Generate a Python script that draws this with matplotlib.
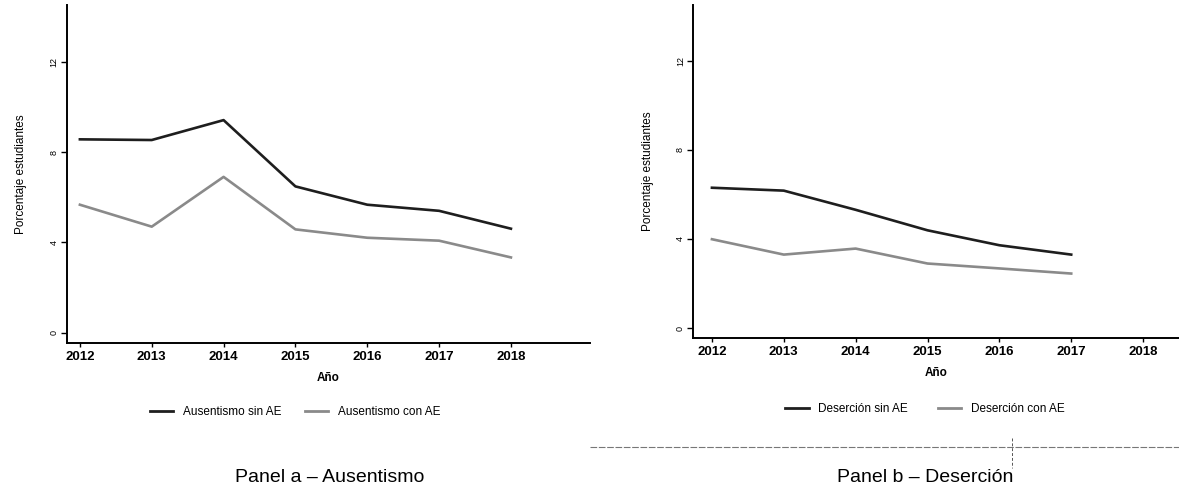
import matplotlib
matplotlib.use("Agg")
from matplotlib import pyplot as plt
from matplotlib.lines import Line2D

plt.rcParams['font.family'] = ['Liberation Sans', 'DejaVu Sans']

years_a = [2012, 2013, 2014, 2015, 2016, 2017, 2018]
ausentismo_sin = [8.56, 8.53, 9.41, 6.48, 5.67, 5.40, 4.61]
ausentismo_con = [5.67, 4.70, 6.90, 4.58, 4.21, 4.08, 3.34]

years_b = [2012, 2013, 2014, 2015, 2016, 2017]
desercion_sin = [6.30, 6.17, 5.31, 4.39, 3.72, 3.30]
desercion_con = [3.99, 3.30, 3.57, 2.90, 2.68, 2.45]

xticks = [2012, 2013, 2014, 2015, 2016, 2017, 2018]
yticks = [0, 4, 8, 12]

dark = "#1e1e1e"
grey = "#8a8a8a"

fig = plt.figure(figsize=(11.79, 4.97), dpi=100)
ax_a = fig.add_axes([0.0568, 0.310, 0.4436, 0.680])
ax_b = fig.add_axes([0.588, 0.320, 0.412, 0.670])


def style_axes(ax, xlim):
    ax.set_xlim(*xlim)
    ax.set_ylim(-0.44, 14.5)
    for side in ["top", "right"]:
        ax.spines[side].set_visible(False)
    ax.spines["left"].set_linewidth(1.4)
    ax.spines["bottom"].set_linewidth(1.4)
    ax.set_xticks(xticks)
    ax.set_xticklabels([str(x) for x in xticks], fontsize=9.5, fontweight="bold")
    ax.set_yticks(yticks)
    ax.set_yticklabels([str(y) for y in yticks], fontsize=6.5, rotation=90, va="center")
    ax.tick_params(axis="y", length=4, width=1, pad=2)
    ax.tick_params(axis="x", length=3, width=1, pad=3)
    ax.set_xlabel("Año", fontsize=8.5, fontweight="bold", labelpad=6)
    ax.set_ylabel("Porcentaje estudiantes", fontsize=8.5, labelpad=16)


ax_a.plot(years_a, ausentismo_sin, color=dark, lw=1.9)
ax_a.plot(years_a, ausentismo_con, color=grey, lw=1.9)
style_axes(ax_a, (2011.82, 2019.1))

ax_b.plot(years_b, desercion_sin, color=dark, lw=1.9)
ax_b.plot(years_b, desercion_con, color=grey, lw=1.9)
style_axes(ax_b, (2011.74, 2018.5))

handles = [Line2D([], [], color=dark, lw=2), Line2D([], [], color=grey, lw=2)]
fig.legend(handles, ["Ausentismo sin AE", "Ausentismo con AE"],
           loc="center", bbox_to_anchor=(295 / 1179, 1 - 412 / 497), ncol=2,
           frameon=False, fontsize=8.5, handlelength=2.0, columnspacing=2.0)
fig.legend(handles, ["Deserción sin AE", "Deserción con AE"],
           loc="center", bbox_to_anchor=(925 / 1179, 1 - 409 / 497), ncol=2,
           frameon=False, fontsize=8.5, handlelength=2.0, columnspacing=2.5)

# scan artefacts under panel b
fig.add_artist(Line2D([590 / 1179, 1.0], [1 - 447 / 497] * 2, color="#777777",
                      lw=0.8, ls=(0, (6, 1.5))))
fig.add_artist(Line2D([1012 / 1179] * 2, [1 - 438 / 497, 1 - 468 / 497], color="#555555",
                      lw=0.7, ls=(0, (3, 2))))

fig.text(330 / 1179, 1 - 478 / 497, "Panel a – Ausentismo", ha="center", va="center", fontsize=14)
fig.text(925 / 1179, 1 - 478 / 497, "Panel b – Deserción", ha="center", va="center", fontsize=14)

fig.savefig("out.png", dpi=100)
